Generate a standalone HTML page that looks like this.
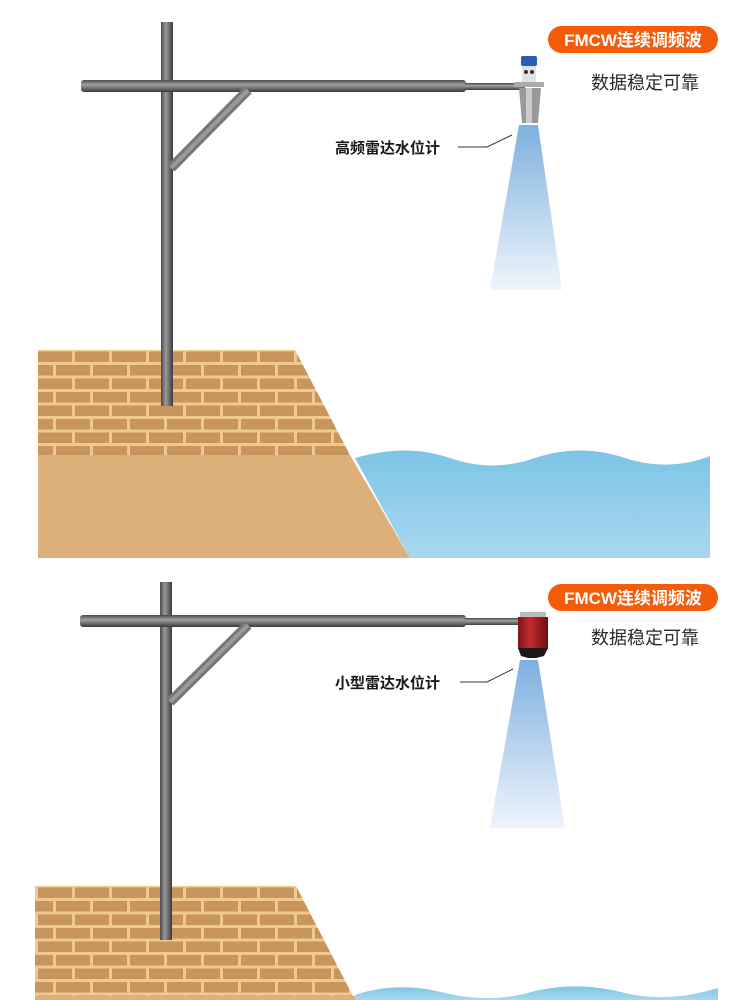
<!DOCTYPE html>
<html><head><meta charset="utf-8"><style>
html,body{margin:0;padding:0;background:#fff;width:750px;height:1000px;overflow:hidden}
svg{display:block}
</style></head><body>
<svg width="750" height="1000" viewBox="0 0 750 1000" xmlns="http://www.w3.org/2000/svg">
<defs>
<pattern id="brick" x="0" y="350" width="74" height="27" patternUnits="userSpaceOnUse">
<rect width="74" height="27" fill="#f0c990"/>
<rect x="1" y="1.5" width="34" height="10.5" fill="#c8955c"/>
<rect x="38" y="1.5" width="34" height="10.5" fill="#c8955c"/>
<rect x="-18" y="15" width="34" height="10.5" fill="#c8955c"/>
<rect x="19" y="15" width="34" height="10.5" fill="#c8955c"/>
<rect x="56" y="15" width="34" height="10.5" fill="#c8955c"/>
</pattern>
<pattern id="brick2" x="0" y="886" width="74" height="27" patternUnits="userSpaceOnUse">
<rect width="74" height="27" fill="#f0c990"/>
<rect x="1" y="1.5" width="34" height="10.5" fill="#c8955c"/>
<rect x="38" y="1.5" width="34" height="10.5" fill="#c8955c"/>
<rect x="-18" y="15" width="34" height="10.5" fill="#c8955c"/>
<rect x="19" y="15" width="34" height="10.5" fill="#c8955c"/>
<rect x="56" y="15" width="34" height="10.5" fill="#c8955c"/>
</pattern>
<linearGradient id="pv" x1="0" x2="1" y1="0" y2="0">
<stop offset="0" stop-color="#4a4a4a"/><stop offset="0.4" stop-color="#9a9a9a"/><stop offset="1" stop-color="#3a3a3a"/></linearGradient>
<linearGradient id="ph" x1="0" x2="0" y1="0" y2="1">
<stop offset="0" stop-color="#4a4a4a"/><stop offset="0.4" stop-color="#a0a0a0"/><stop offset="1" stop-color="#3a3a3a"/></linearGradient>
<linearGradient id="beam" x1="0" x2="0" y1="0" y2="1">
<stop offset="0" stop-color="#7fb0df"/><stop offset="1" stop-color="#eef5fc"/></linearGradient>
<linearGradient id="water" x1="0" x2="0" y1="0" y2="1">
<stop offset="0" stop-color="#7cc4e6"/><stop offset="1" stop-color="#a9d8ef"/></linearGradient>
<linearGradient id="red" x1="0" x2="1" y1="0" y2="0">
<stop offset="0" stop-color="#7a1418"/><stop offset="0.4" stop-color="#c52a2e"/><stop offset="1" stop-color="#6a1014"/></linearGradient>
</defs>

<!-- PANEL 1 -->
<path d="M355,458 C390,448 420,448 450,458 C480,468 505,468 535,458 C565,448 595,448 625,458 C655,468 685,466 710,456 L710,558 L410,558 Z" fill="url(#water)"/>
<path d="M38,350 L295,350 L350,455 L38,455 Z" fill="url(#brick)"/>
<path d="M38,455 L350,455 L410,558 L38,558 Z" fill="#dcb07a"/>
<rect x="161" y="22" width="12" height="384" fill="url(#pv)"/>
<rect x="81" y="80" width="385" height="12" rx="3" fill="url(#ph)"/>
<rect x="465" y="83" width="60" height="7" fill="url(#ph)"/>
<line x1="171" y1="168" x2="248" y2="90" stroke="#777" stroke-width="10"/>
<line x1="171" y1="168" x2="248" y2="90" stroke="#9a9a9a" stroke-width="4"/>
<path d="M519,125 L538,125 L562,290 L490,290 Z" fill="url(#beam)"/>
<rect x="521" y="56" width="16" height="10" rx="2" fill="#2a5bb5"/>
<rect x="522" y="66" width="14" height="16" fill="#e2e2e2"/>
<circle cx="526" cy="72" r="2" fill="#333"/><circle cx="532" cy="72" r="2" fill="#333"/>
<rect x="514" y="82" width="30" height="5" fill="#aaa"/>
<path d="M519,88 L541,88 L538,123 L522,123 Z" fill="#999"/>
<path d="M526,88 L532,88 L532,123 L526,123 Z" fill="#ccc"/>
<polyline points="458,147 487,147 512,135" fill="none" stroke="#333" stroke-width="1"/>
<text x="335" y="153" font-family="'Liberation Sans','Noto Sans CJK SC',sans-serif" font-size="15" font-weight="bold" fill="#1a1a1a">高频雷达水位计</text>
<rect x="548" y="26" width="170" height="27" rx="13.5" fill="#f25c0b"/>
<text x="633" y="46" text-anchor="middle" font-family="'Liberation Sans','Noto Sans CJK SC',sans-serif" font-weight="bold" font-size="17" fill="#fff">FMCW连续调频波</text>
<text x="591" y="89" font-family="'Liberation Sans','Noto Sans CJK SC',sans-serif" font-size="18" fill="#2a2a2a">数据稳定可靠</text>

<!-- PANEL 2 -->
<path d="M355,995 C385,985 415,985 445,993 C475,1000 505,1000 535,991 C565,984 595,985 625,993 C655,1000 685,998 718,988 L718,1000 L355,1000 Z" fill="url(#water)"/>
<path d="M35,886 L296,886 L355,1000 L35,1000 Z" fill="url(#brick2)"/>
<rect x="35" y="996" width="320" height="4" fill="#dcb07a"/>
<rect x="160" y="582" width="12" height="358" fill="url(#pv)"/>
<rect x="80" y="615" width="386" height="12" rx="3" fill="url(#ph)"/>
<rect x="465" y="618" width="55" height="7" fill="url(#ph)"/>
<line x1="170" y1="702" x2="248" y2="625" stroke="#777" stroke-width="10"/>
<line x1="170" y1="702" x2="248" y2="625" stroke="#9a9a9a" stroke-width="4"/>
<path d="M520,660 L538,660 L565,828 L490,828 Z" fill="url(#beam)"/>
<rect x="520" y="612" width="26" height="6" fill="#bbb"/>
<rect x="518" y="617" width="30" height="32" fill="url(#red)"/>
<path d="M518,648 L548,648 L544,656 L536,658 L528,658 L521,656 Z" fill="#1a1a1a"/>
<polyline points="460,682 487,682 513,669" fill="none" stroke="#333" stroke-width="1"/>
<text x="335" y="688" font-family="'Liberation Sans','Noto Sans CJK SC',sans-serif" font-size="15" font-weight="bold" fill="#1a1a1a">小型雷达水位计</text>
<rect x="548" y="584" width="170" height="27" rx="13.5" fill="#f25c0b"/>
<text x="633" y="604" text-anchor="middle" font-family="'Liberation Sans','Noto Sans CJK SC',sans-serif" font-weight="bold" font-size="17" fill="#fff">FMCW连续调频波</text>
<text x="591" y="644" font-family="'Liberation Sans','Noto Sans CJK SC',sans-serif" font-size="18" fill="#2a2a2a">数据稳定可靠</text>
</svg>
</body></html>
